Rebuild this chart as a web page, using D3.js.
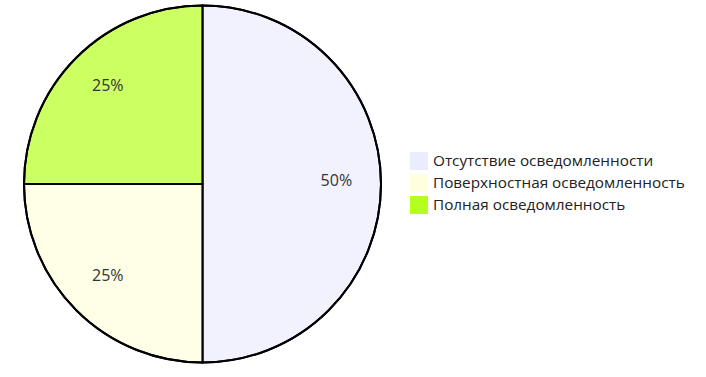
<!DOCTYPE html>
<html>
<head>
<meta charset="utf-8">
<script src="https://cdn.jsdelivr.net/npm/d3@7"></script>
<style>
  body { margin: 0; background: #fff; }
  text { font-family: "Open Sans", "Noto Sans", sans-serif; }
</style>
</head>
<body>
<script>
// data
var categories = ["Отсутствие осведомленности", "Поверхностная осведомленность", "Полная осведомленность"];
var values = [50, 25, 25];
var colors = ["#ECECFF", "#ffffde", "#b5ff1f"];

var svgWidth = 706, svgHeight = 377;
var cx = 202.5, cy = 184, radius = 178.5;

var svg = d3.select("body").append("svg")
  .attr("width", svgWidth)
  .attr("height", svgHeight);

var pieGroup = svg.append("g")
  .attr("transform", `translate(${cx}, ${cy})`);

var pie = d3.pie().sort(null).value(d => d.value);
var data = categories.map((c, i) => ({ label: c, value: values[i], color: colors[i] }));
var arcs = pie(data);
var total = d3.sum(values);

var arc = d3.arc().innerRadius(0).outerRadius(radius);
var labelArc = d3.arc().innerRadius(radius * 0.75).outerRadius(radius * 0.75);

pieGroup.selectAll("path.slice")
  .data(arcs)
  .enter()
  .append("path")
  .attr("class", "slice")
  .attr("d", arc)
  .attr("fill", d => d.data.color)
  .attr("fill-opacity", 0.7)
  .attr("stroke", "#000")
  .attr("stroke-width", 2);

pieGroup.append("circle")
  .attr("r", radius)
  .attr("fill", "none")
  .attr("stroke", "#000")
  .attr("stroke-width", 2);

pieGroup.selectAll("text.pct")
  .data(arcs)
  .enter()
  .append("text")
  .attr("class", "pct")
  .attr("transform", d => `translate(${labelArc.centroid(d)})`)
  .attr("dy", "0.12em")
  .attr("text-anchor", "middle")
  .attr("font-size", 16)
  .attr("fill", "#333")
  .text(d => Math.round(d.data.value / total * 100) + "%");

// legend
var legend = svg.append("g").attr("transform", "translate(410, 152)");
var rows = legend.selectAll("g")
  .data(data)
  .enter()
  .append("g")
  .attr("transform", (d, i) => `translate(0, ${i * 22})`);

rows.append("rect")
  .attr("width", 18)
  .attr("height", 18)
  .attr("fill", d => d.color);

rows.append("text")
  .attr("x", 23)
  .attr("y", 14)
  .attr("font-size", 15.3)
  .attr("fill", "#222")
  .text(d => d.label);
</script>
</body>
</html>
